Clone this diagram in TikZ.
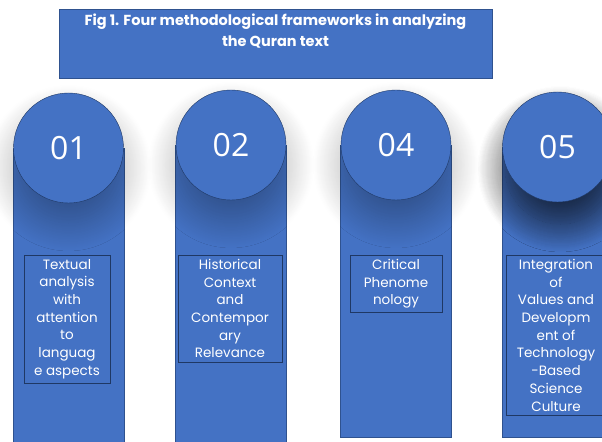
\documentclass[tikz,border=0pt]{standalone}
\usepackage{fontspec}
\setmainfont{Poppins}
\newfontfamily\numfont{Open Sans}
\usetikzlibrary{positioning,shadows.blur}
\definecolor{accent}{HTML}{4472C4}
\definecolor{edge}{HTML}{2F528F}
\definecolor{deep}{HTML}{1F3864}
\tikzset{
  pillar/.style={draw=edge, fill=accent, minimum width=111bp, anchor=north, inner sep=0pt},
  badge/.style={draw=deep, fill=accent, circle, minimum size=110bp, inner sep=0pt, text=white,
    font=\numfont\fontsize{32bp}{36bp}\selectfont,
    blur shadow={shadow xshift=0bp, shadow yshift=-20bp, shadow blur radius=28bp,
      shadow blur steps=30, shadow opacity=30}},
  caption/.style={draw=deep, fill=accent, text=white, align=center, anchor=north, inner sep=4bp,
    font=\fontsize{13.5bp}{17.7bp}\selectfont},
  banner/.style={draw=edge, fill=accent, minimum width=433bp, minimum height=69bp, anchor=north},
}
\begin{document}
\begin{tikzpicture}[x=1bp, y=-1bp]
  \useasboundingbox (0,0) rectangle (602,442);

  % title
  \node[banner] (banner) at (275.5,9) {};
  \node[text=white, align=center, anchor=north, inner sep=0pt,
    font=\bfseries\fontsize{14.5bp}{21bp}\selectfont] (title) at (275.5,14)
    {Fig 1. Four methodological frameworks in analyzing\\the Quran text};

  % columns
  \node[pillar, minimum height=310bp] (col1) at (68.5,148) {};
  \node[pillar, minimum height=310bp] (col2) at (231,145) {};
  \node[pillar, minimum height=292bp] (col3) at (396,145) {};
  \node[pillar, minimum height=290bp] (col4) at (557.5,147) {};

  \node[badge] (num1) at (col1.north) {01};
  \node[badge] (num2) at (col2.north) {02};
  \node[badge] (num4) at (col3.north) {04};
  \node[badge, blur shadow={shadow yshift=-22bp, shadow opacity=42}] (num5) at (col4.north) {05};

  \node[caption, minimum width=86bp] (txt1) at (67,255)
    {Textual\\analysis\\with\\attention\\to\\languag\\e aspects};
  \node[caption, minimum width=104bp] (txt2) at (230,255)
    {Historical\\Context\\and\\Contempor\\ary\\Relevance};
  \node[caption, minimum width=92bp] (txt3) at (396,255)
    {Critical\\Phenome\\nology};
  \node[caption, minimum width=100bp] (txt4) at (556,255)
    {Integration\\of\\Values and\\Developm\\ent of\\Technology\\-Based\\Science\\Culture};
\end{tikzpicture}
\end{document}
